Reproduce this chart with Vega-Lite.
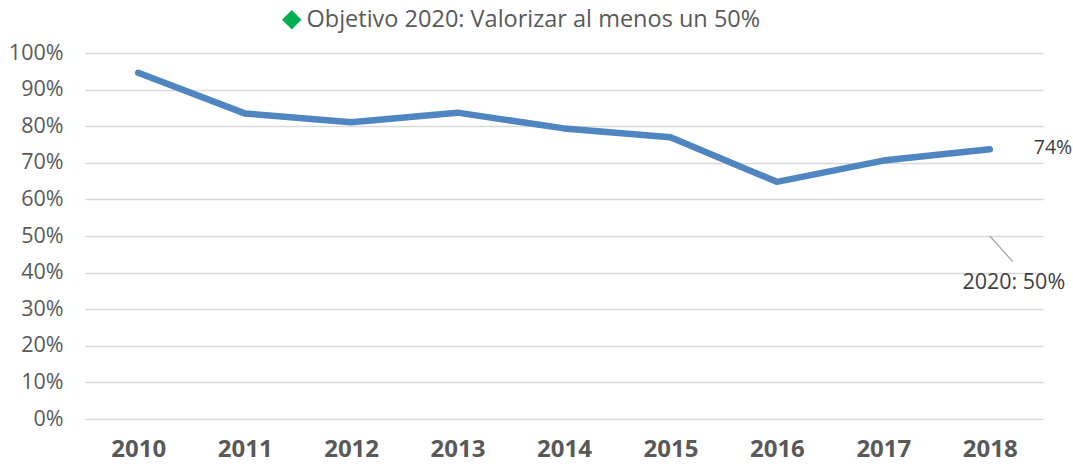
{
  "$schema": "https://vega.github.io/schema/vega-lite/v6.json",
  "width": 958,
  "height": 366,
  "autosize": {"type": "none"},
  "padding": {"left": 85, "top": 53, "right": 30, "bottom": 49},
  "background": "white",
  "config": {
    "view": {"stroke": null},
    "font": "Open Sans",
    "axis": {"labelFont": "Open Sans", "labelColor": "#595959"}
  },
  "datasets": {
    "serie": [
      {"anio": "2010", "valor": 0.946},
      {"anio": "2011", "valor": 0.835},
      {"anio": "2012", "valor": 0.811},
      {"anio": "2013", "valor": 0.837},
      {"anio": "2014", "valor": 0.794},
      {"anio": "2015", "valor": 0.770},
      {"anio": "2016", "valor": 0.648},
      {"anio": "2017", "valor": 0.706},
      {"anio": "2018", "valor": 0.737}
    ],
    "objetivo": [
      {"anio": "2018", "valor": 0.5, "fin": 0.43, "etiqueta": "2020: 50%", "serie": "Objetivo 2020: Valorizar al menos un 50%"}
    ],
    "ultimo": [
      {"anio": "2018", "valor": 0.737, "etiqueta": "74%"}
    ]
  },
  "encoding": {
    "x": {
      "field": "anio", "type": "ordinal",
      "scale": {"type": "point", "padding": 0.5},
      "axis": {"title": null, "domain": false, "ticks": false, "grid": false, "labelAngle": 0, "labelFontSize": 24, "labelFontWeight": "bold", "labelPadding": 18, "labelOverlap": false}
    },
    "y": {
      "field": "valor", "type": "quantitative",
      "scale": {"domain": [0, 1], "nice": false},
      "axis": {"title": null, "format": ".0%", "values": [0, 0.1, 0.2, 0.3, 0.4, 0.5, 0.6, 0.7, 0.8, 0.9, 1], "domain": false, "ticks": false, "grid": true, "gridColor": "#D9D9D9", "gridWidth": 1.3, "labelFontSize": 21.5, "labelPadding": 22, "labelOverlap": false}
    }
  },
  "layer": [
    {
      "data": {"name": "serie"},
      "mark": {"type": "line", "color": "#4F86C1", "strokeWidth": 6.5, "strokeCap": "round", "strokeJoin": "round"}
    },
    {
      "data": {"name": "objetivo"},
      "mark": {"type": "rule", "color": "#A6A6A6", "strokeWidth": 1.3, "x2Offset": 23},
      "encoding": {
        "x2": {"field": "anio"},
        "y2": {"field": "fin"}
      }
    },
    {
      "data": {"name": "objetivo"},
      "mark": {"type": "point", "shape": "diamond", "filled": true, "opacity": 0},
      "encoding": {
        "color": {
          "field": "serie", "type": "nominal",
          "scale": {"range": ["#00B050"]},
          "legend": {"title": null, "orient": "none", "legendX": 195, "legendY": -45, "symbolOpacity": 1, "symbolSize": 380, "symbolStrokeWidth": 0, "labelOffset": 3, "labelFontSize": 23.5, "labelColor": "#595959", "labelFont": "Open Sans", "labelLimit": 700, "symbolType": "diamond"}
        }
      }
    },
    {
      "data": {"name": "objetivo"},
      "mark": {"type": "text", "dx": 24, "dy": 47, "fontSize": 21.5, "color": "#404040", "align": "center"},
      "encoding": {
        "text": {"field": "etiqueta"}
      }
    },
    {
      "data": {"name": "ultimo"},
      "mark": {"type": "text", "dx": 44, "dy": -1, "fontSize": 19.5, "color": "#404040", "align": "left"},
      "encoding": {
        "text": {"field": "etiqueta"}
      }
    }
  ]
}
